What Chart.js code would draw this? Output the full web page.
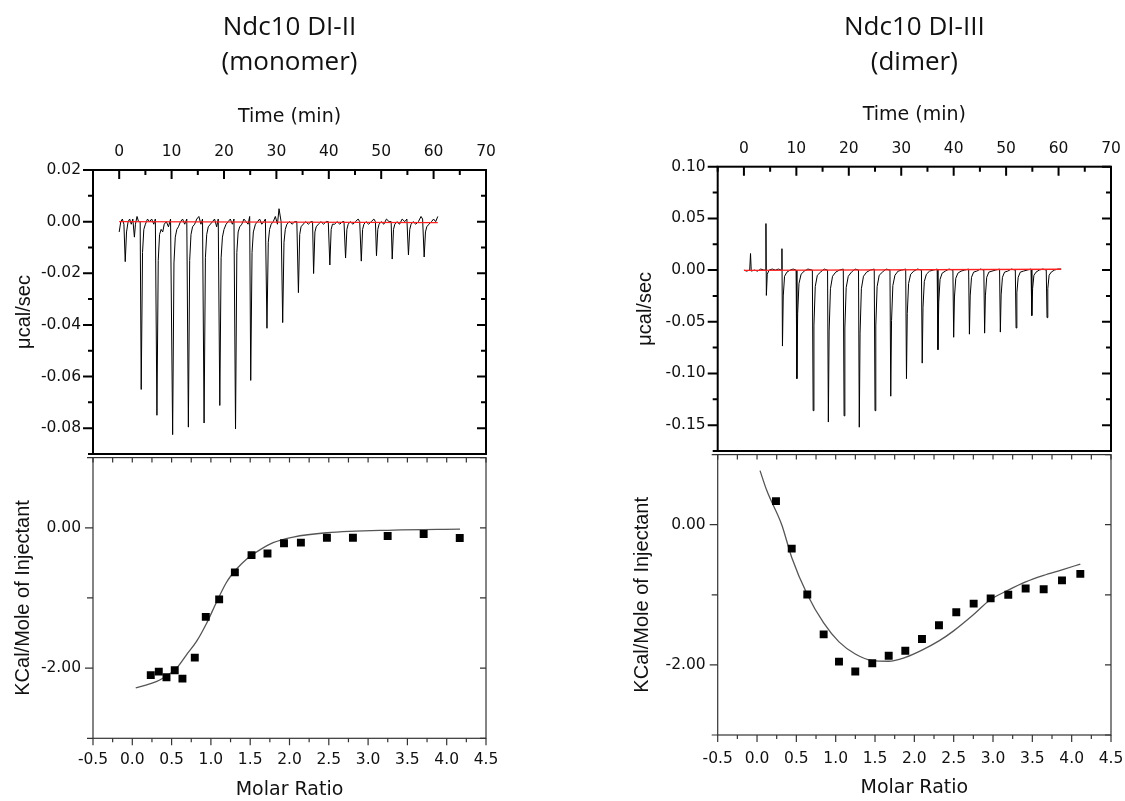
<!DOCTYPE html>
<html>
<head>
<meta charset="utf-8">
<script src="https://cdn.jsdelivr.net/npm/chart.js@4.4.7/dist/chart.umd.js"></script>
<style>
  html, body { margin: 0; padding: 0; background: #fff; }
  #page { position: relative; width: 1125px; height: 801px; overflow: hidden; }
  canvas { position: absolute; }
</style>
</head>
<body>
<div id="page">
  <canvas id="lb" width="560" height="349" style="left:0;top:452px"></canvas>
  <canvas id="rb" width="565" height="352" style="left:560px;top:449px"></canvas>
  <canvas id="lt" width="560" height="456" style="left:0;top:0"></canvas>
  <canvas id="rt" width="565" height="453" style="left:560px;top:0"></canvas>
</div>
<script>
// tick labels
const timeTicks = [0, 10, 20, 30, 40, 50, 60, 70];
const ratioTicks = [-0.5, 0, 0.5, 1, 1.5, 2, 2.5, 3, 3.5, 4, 4.5];
const powerTicksL = [0.02, 0, -0.02, -0.04, -0.06, -0.08];
const powerTicksR = [0.1, 0.05, 0, -0.05, -0.1, -0.15];
const heatTicks = [0, -2];

// raw heat trace, Ndc10 DI-II (monomer)
const timeL = [
  0.0, 0.3, 0.6, 0.9, 1.15, 1.4, 1.7, 2.0, 2.3, 2.6, 2.9, 3.1, 3.4, 3.7, 4.0,
  4.2, 4.45, 4.7, 5.0, 5.4, 5.8, 6.2, 6.6, 6.9,
  7.2, 7.45, 7.7, 8.0, 8.3, 8.6, 9.0, 9.4, 9.8,
  10.2, 10.45, 10.7, 11.0, 11.3, 11.7, 12.1, 12.5, 12.9,
  13.2, 13.45, 13.7, 14.0, 14.4, 14.8, 15.2, 15.6, 15.9,
  16.2, 16.45, 16.7, 17.0, 17.4, 17.8, 18.2, 18.6, 18.9,
  19.2, 19.45, 19.7, 20.0, 20.4, 20.8, 21.2, 21.6, 21.9,
  22.2, 22.45, 22.7, 23.0, 23.4, 23.8, 24.2, 24.6, 24.9,
  25.1, 25.35, 25.6, 26.0, 26.4, 26.8, 27.2, 27.6, 27.9,
  28.2, 28.45, 28.7, 29.0, 29.4, 29.8, 30.2, 30.5, 30.9,
  31.2, 31.45, 31.7, 32.0, 32.5, 33.0, 33.5, 33.9,
  34.2, 34.45, 34.7, 35.1, 35.6, 36.1, 36.6, 36.9,
  37.1, 37.35, 37.6, 38.0, 38.5, 39.0, 39.5, 39.9,
  40.2, 40.45, 40.7, 41.1, 41.6, 42.1, 42.6, 42.9,
  43.2, 43.45, 43.7, 44.1, 44.6, 45.1, 45.6, 45.9,
  46.2, 46.45, 46.7, 47.1, 47.6, 48.1, 48.6, 48.9,
  49.1, 49.35, 49.6, 50.0, 50.5, 51.0, 51.5, 51.9,
  52.1, 52.35, 52.6, 53.0, 53.5, 54.0, 54.5, 54.9,
  55.2, 55.45, 55.7, 56.1, 56.6, 57.1, 57.6, 57.9,
  58.2, 58.45, 58.7, 59.1, 59.6, 60.0, 60.4, 60.8
];
const powerL = [
  -0.004, 0.000, 0.001, -0.001, -0.0155, -0.004, 0.000, 0.001, -0.001, 0.001, -0.006, -0.001, 0.002, 0.000, 0.000,
  -0.065, -0.012, -0.003, -0.001, 0.001, 0.000, 0.001, -0.001, 0.001,
  -0.075, -0.015, -0.005, -0.003, -0.004, -0.001, 0.000, -0.002, 0.001,
  -0.0825, -0.016, -0.006, -0.003, -0.002, 0.000, 0.001, -0.001, 0.001,
  -0.0796, -0.015, -0.005, -0.002, -0.001, 0.001, 0.002, -0.001, 0.001,
  -0.078, -0.014, -0.005, -0.002, -0.001, 0.000, 0.001, -0.002, 0.001,
  -0.0712, -0.014, -0.006, -0.003, -0.001, 0.000, 0.001, -0.001, 0.001,
  -0.0803, -0.012, -0.004, -0.002, -0.001, 0.001, 0.000, -0.001, 0.002,
  -0.0615, -0.012, -0.004, -0.001, 0.000, 0.001, -0.001, 0.000, 0.001,
  -0.0413, -0.008, -0.003, -0.001, 0.000, 0.002, -0.001, 0.005, 0.000,
  -0.0391, -0.008, -0.003, -0.001, 0.000, -0.001, 0.000, 0.000,
  -0.0275, -0.005, -0.002, -0.001, 0.000, -0.001, 0.000, 0.000,
  -0.0201, -0.004, -0.002, -0.001, 0.000, -0.001, 0.000, 0.000,
  -0.0168, -0.003, -0.001, -0.001, 0.000, -0.001, 0.000, 0.000,
  -0.0141, -0.003, -0.001, 0.000, -0.001, 0.000, 0.001, 0.000,
  -0.0153, -0.003, -0.001, 0.000, -0.001, 0.000, 0.001, 0.000,
  -0.0132, -0.003, -0.001, 0.000, -0.001, 0.001, 0.000, 0.000,
  -0.0145, -0.003, -0.001, 0.000, -0.001, 0.001, 0.000, 0.001,
  -0.0129, -0.003, -0.001, 0.000, -0.001, 0.000, 0.002, 0.001,
  -0.0137, -0.004, -0.002, -0.001, 0.000, 0.001, 0.000, 0.002
];
const baseTimeL = [0, 60.8];
const basePowerL = [0, -0.0004];

// raw heat trace, Ndc10 DI-III (dimer)
const timeR = [
  0.0, 0.5, 1.1, 1.26, 1.4, 2.0, 2.6, 3.2, 3.8, 4.1,
  4.2, 4.28, 4.45, 4.8, 5.4, 6.0, 6.6, 7.1,
  7.25, 7.35, 7.5, 7.75, 8.2, 8.8, 9.4, 9.95,
  10.1, 10.25, 10.5, 10.9, 11.5, 12.2, 13.05,
  13.2, 13.35, 13.6, 14.0, 14.6, 15.3, 15.95,
  16.1, 16.25, 16.5, 16.9, 17.5, 18.2, 18.95,
  19.1, 19.25, 19.5, 19.9, 20.5, 21.2, 21.85,
  22.0, 22.15, 22.4, 22.8, 23.4, 24.1, 24.85,
  25.0, 25.15, 25.4, 25.8, 26.4, 27.1, 27.85,
  28.0, 28.15, 28.4, 28.8, 29.4, 30.1, 30.85,
  31.0, 31.15, 31.4, 31.8, 32.4, 33.1, 33.85,
  34.0, 34.15, 34.4, 34.8, 35.4, 36.1, 36.85,
  37.0, 37.15, 37.4, 37.8, 38.4, 39.1, 39.85,
  40.0, 40.15, 40.4, 40.8, 41.4, 42.1, 42.85,
  43.0, 43.15, 43.4, 43.8, 44.4, 45.1, 45.75,
  45.9, 46.05, 46.3, 46.7, 47.3, 48.0, 48.75,
  48.9, 49.05, 49.3, 49.7, 50.3, 51.0, 51.75,
  51.9, 52.05, 52.3, 52.7, 53.3, 54.0, 54.75,
  54.9, 55.05, 55.3, 55.7, 56.3, 57.0, 57.65,
  57.8, 57.95, 58.2, 58.6, 59.2, 59.9, 60.5
];
const powerR = [
  0.000, -0.001, 0.000, 0.016, -0.001, 0.000, -0.001, 0.001, 0.000, 0.000,
  0.045, -0.0245, -0.004, 0.000, 0.001, 0.000, 0.001, 0.000,
  0.0207, -0.0735, -0.025, -0.006, -0.002, 0.000, 0.001, 0.000,
  -0.105, -0.042, -0.013, -0.004, -0.001, 0.001, 0.000,
  -0.136, -0.054, -0.016, -0.005, -0.002, 0.001, 0.000,
  -0.147, -0.059, -0.018, -0.006, -0.002, 0.000, 0.001,
  -0.141, -0.056, -0.017, -0.006, -0.002, 0.001, 0.000,
  -0.152, -0.061, -0.018, -0.006, -0.002, 0.000, 0.001,
  -0.136, -0.054, -0.016, -0.005, -0.002, 0.001, 0.000,
  -0.122, -0.049, -0.015, -0.005, -0.001, 0.000, 0.001,
  -0.105, -0.042, -0.013, -0.004, -0.001, 0.001, 0.000,
  -0.090, -0.036, -0.011, -0.004, -0.001, 0.000, 0.001,
  -0.077, -0.031, -0.009, -0.003, -0.001, 0.001, 0.000,
  -0.065, -0.026, -0.008, -0.003, -0.001, 0.000, 0.001,
  -0.062, -0.025, -0.007, -0.002, -0.001, 0.001, 0.000,
  -0.061, -0.025, -0.007, -0.002, -0.001, 0.000, 0.001,
  -0.060, -0.024, -0.007, -0.002, -0.001, 0.001, 0.000,
  -0.056, -0.022, -0.007, -0.002, -0.001, 0.000, 0.001,
  -0.044, -0.018, -0.005, -0.002, 0.000, 0.001, 0.000,
  -0.046, -0.018, -0.005, -0.002, 0.000, 0.001, 0.001
];
const baseTimeR = [0, 60.5];
const basePowerR = [-0.0003, 0.0008];

// integrated heats + fit, monomer
const ratioL = [0.235, 0.337, 0.435, 0.540, 0.638, 0.795, 0.935, 1.105, 1.305, 1.517, 1.72, 1.93, 2.145, 2.476, 2.807, 3.249, 3.707, 4.166];
const heatL = [-2.10, -2.05, -2.13, -2.03, -2.15, -1.85, -1.27, -1.02, -0.635, -0.39, -0.367, -0.221, -0.212, -0.141, -0.141, -0.118, -0.089, -0.146];
const fitRatioL = [0.044, 0.222, 0.349, 0.562, 0.689, 0.817, 0.944, 1.071, 1.199, 1.326, 1.453, 1.623, 1.792, 2.047, 2.472, 3.32, 4.17];
const fitHeatL = [-2.283, -2.226, -2.17, -2.0, -1.81, -1.62, -1.365, -1.06, -0.776, -0.588, -0.447, -0.315, -0.212, -0.132, -0.071, -0.033, -0.019];

// integrated heats + fit, dimer
const ratioR = [0.241, 0.441, 0.639, 0.847, 1.042, 1.249, 1.465, 1.674, 1.885, 2.097, 2.313, 2.533, 2.754, 2.97, 3.194, 3.415, 3.644, 3.877, 4.11];
const heatR = [0.336, -0.341, -0.995, -1.565, -1.953, -2.093, -1.976, -1.869, -1.799, -1.63, -1.434, -1.248, -1.126, -1.051, -1.0, -0.911, -0.92, -0.794, -0.701];
const fitRatioR = [0.038, 0.123, 0.314, 0.441, 0.639, 0.847, 1.042, 1.249, 1.465, 1.674, 1.885, 2.097, 2.313, 2.495, 2.75, 2.961, 3.194, 3.415, 3.644, 3.877, 4.11];
const fitHeatR = [0.771, 0.49, 0.0, -0.467, -0.995, -1.402, -1.672, -1.845, -1.939, -1.948, -1.893, -1.789, -1.658, -1.518, -1.285, -1.074, -0.934, -0.817, -0.724, -0.645, -0.561];

const pts = (xs, ys) => xs.map((x, i) => ({ x: x, y: ys[i] }));

const tickFont = { family: 'DejaVu Sans', size: 15.5 };
const axisFont = { family: 'DejaVu Sans', size: 19 };
const vAxisFont = { family: 'Liberation Sans', size: 20 };
const titleFont = { family: 'Open Sans', size: 26, weight: 'normal', lineHeight: 1.35 };
const ink = '#111';

// fixed box size, no label overhang padding (keeps panels aligned)
const fixBox = (w, h) => (s) => {
  if (w != null) s.width = w;
  if (h != null) s.height = h;
  s.paddingTop = 0; s.paddingBottom = 0; s.paddingLeft = 0; s.paddingRight = 0;
};

// frame + in/out tick marks, placed with the chart's own scales
const frameTicks = {
  id: 'frameTicks',
  afterDatasetsDraw(chart, args, o) {
    if (!o.marks) return;
    const { ctx, chartArea: a } = chart;
    ctx.save();
    ctx.strokeStyle = o.color;
    ctx.lineWidth = o.frame;
    ctx.strokeRect(a.left, a.top, a.right - a.left, a.bottom - a.top);
    ctx.beginPath();
    o.marks.forEach((m) => {
      const s = chart.scales[m.scale];
      const k0 = Math.ceil(s.min / m.step - 1e-6);
      const k1 = Math.floor(s.max / m.step + 1e-6);
      for (let k = k0; k <= k1; k++) {
        const v = k * m.step;
        const r = v / m.major;
        const len = Math.abs(r - Math.round(r)) < 1e-6 ? m.long : m.short;
        const p = s.getPixelForValue(v);
        const d = m.dir === 'in' ? len : -len;
        if (m.side === 'top') { ctx.moveTo(p, a.top); ctx.lineTo(p, a.top + d); }
        else if (m.side === 'bottom') { ctx.moveTo(p, a.bottom); ctx.lineTo(p, a.bottom - d); }
        else if (m.side === 'left') { ctx.moveTo(a.left, p); ctx.lineTo(a.left + d, p); }
        else { ctx.moveTo(a.right, p); ctx.lineTo(a.right - d, p); }
      }
    });
    ctx.stroke();
    ctx.restore();
  }
};
Chart.register(frameTicks);

function topPanel(id, o) {
  return new Chart(document.getElementById(id), {
    type: 'scatter',
    data: {
      datasets: [
        { data: pts(o.baseT, o.baseP), showLine: true, borderColor: '#ff2020', borderWidth: 1.3, pointRadius: 0 },
        { data: pts(o.t, o.p), showLine: true, borderColor: '#000', borderWidth: 1, pointRadius: 0 }
      ]
    },
    options: {
      responsive: false,
      animation: false,
      devicePixelRatio: 1,
      layout: { padding: o.pad },
      plugins: {
        legend: { display: false },
        tooltip: { enabled: false },
        title: {
          display: true, text: o.title, font: titleFont, color: ink,
          fullSize: false, padding: { top: 10, bottom: 10 }
        },
        frameTicks: {
          frame: 2, color: '#000',
          marks: [
            { scale: 'x', side: 'top', dir: 'in', step: 5, major: 10, long: 9, short: 5 },
            { scale: 'y', side: 'left', dir: 'out', step: o.yStep, major: o.yStep * 2, long: 10, short: 5 },
            { scale: 'y', side: 'right', dir: 'in', step: o.yStep, major: o.yStep * 2, long: 9, short: 5 }
          ]
        }
      },
      scales: {
        x: {
          type: 'linear', position: 'top', min: -5, max: 70,
          afterBuildTicks: (s) => { s.ticks = timeTicks.map((v) => ({ value: v })); },
          afterFit: fixBox(null, o.xH),
          grid: { display: false, drawTicks: false },
          border: { display: false },
          ticks: { font: tickFont, color: ink, padding: o.xPad, maxRotation: 0, autoSkip: false },
          title: { display: true, text: 'Time (min)', font: axisFont, color: ink, padding: { top: o.xTitlePad, bottom: 0 } }
        },
        y: {
          type: 'linear', position: 'left', min: o.yMin, max: o.yMax,
          afterBuildTicks: (s) => { s.ticks = o.yTicks.map((v) => ({ value: v })); },
          afterFit: fixBox(o.yW, null),
          grid: { display: false, drawTicks: false },
          border: { display: false },
          ticks: { font: tickFont, color: ink, padding: 12, callback: (v) => v.toFixed(2) },
          title: { display: true, text: 'μcal/sec', font: vAxisFont, color: ink, padding: { top: o.yTitlePad, bottom: 0 } }
        }
      }
    }
  });
}

function bottomPanel(id, o) {
  return new Chart(document.getElementById(id), {
    type: 'scatter',
    data: {
      datasets: [
        { data: pts(o.rx, o.hy), pointStyle: 'rect', pointRadius: 5.6, backgroundColor: '#000', borderColor: '#000', borderWidth: 0 },
        { data: pts(o.fx, o.fy), showLine: true, borderColor: '#555', borderWidth: 1.3, pointRadius: 0, cubicInterpolationMode: 'monotone' }
      ]
    },
    options: {
      responsive: false,
      animation: false,
      devicePixelRatio: 1,
      layout: { padding: o.pad },
      plugins: {
        legend: { display: false },
        tooltip: { enabled: false },
        frameTicks: {
          frame: 1.2, color: '#333',
          marks: [
            { scale: 'x', side: 'top', dir: 'in', step: 0.25, major: 0.5, long: 5, short: 5 },
            { scale: 'x', side: 'bottom', dir: 'out', step: 0.25, major: 0.5, long: 7, short: 4 },
            { scale: 'y', side: 'left', dir: 'out', step: 1, major: 2, long: 8, short: 6 },
            { scale: 'y', side: 'right', dir: 'in', step: 1, major: 2, long: 6, short: 6 }
          ]
        }
      },
      scales: {
        x: {
          type: 'linear', position: 'bottom', min: -0.5, max: 4.5,
          afterBuildTicks: (s) => { s.ticks = ratioTicks.map((v) => ({ value: v })); },
          afterFit: fixBox(null, o.xH),
          grid: { display: false, drawTicks: false },
          border: { display: false },
          ticks: { font: tickFont, color: ink, padding: o.xPad, maxRotation: 0, autoSkip: false, callback: (v) => v.toFixed(1) },
          title: { display: true, text: 'Molar Ratio', font: axisFont, color: ink, padding: { top: 0, bottom: o.xTitlePad } }
        },
        y: {
          type: 'linear', position: 'left', min: -3, max: 1,
          afterBuildTicks: (s) => { s.ticks = heatTicks.map((v) => ({ value: v })); },
          afterFit: fixBox(o.yW, null),
          grid: { display: false, drawTicks: false },
          border: { display: false },
          ticks: { font: tickFont, color: ink, padding: 12, callback: (v) => v.toFixed(2) },
          title: { display: true, text: 'KCal/Mole of Injectant', font: vAxisFont, color: ink, padding: { top: o.yTitlePad, bottom: 0 } }
        }
      }
    }
  });
}

// left: monomer
bottomPanel('lb', {
  rx: ratioL, hy: heatL, fx: fitRatioL, fy: fitHeatL,
  pad: { left: 0, right: 74, top: 2, bottom: 0 },
  xH: 62.7, xPad: 12.7, xTitlePad: 0, yW: 93, yTitlePad: 11
});
topPanel('lt', {
  title: ['Ndc10 DI-II', '(monomer)'],
  t: timeL, p: powerL, baseT: baseTimeL, baseP: basePowerL,
  yMin: -0.09, yMax: 0.02, yStep: 0.01, yTicks: powerTicksL,
  pad: { left: 0, right: 74, top: 0, bottom: 2 },
  xH: 79.8, xPad: 9, xTitlePad: 15.4, yW: 93, yTitlePad: 12
});

// right: dimer
bottomPanel('rb', {
  rx: ratioR, hy: heatR, fx: fitRatioR, fy: fitHeatR,
  pad: { left: 0, right: 14, top: 2, bottom: 0 },
  xH: 66, xPad: 14.3, xTitlePad: 1.3, yW: 157.7, yTitlePad: 70
});
topPanel('rt', {
  title: ['Ndc10 DI-III', '(dimer)'],
  t: timeR, p: powerR, baseT: baseTimeR, baseP: basePowerR,
  yMin: -0.175, yMax: 0.1, yStep: 0.025, yTicks: powerTicksR,
  pad: { left: 0, right: 14, top: 0, bottom: 2 },
  xH: 76.5, xPad: 8.4, xTitlePad: 13.4, yW: 157.7, yTitlePad: 73
});
</script>
</body>
</html>
